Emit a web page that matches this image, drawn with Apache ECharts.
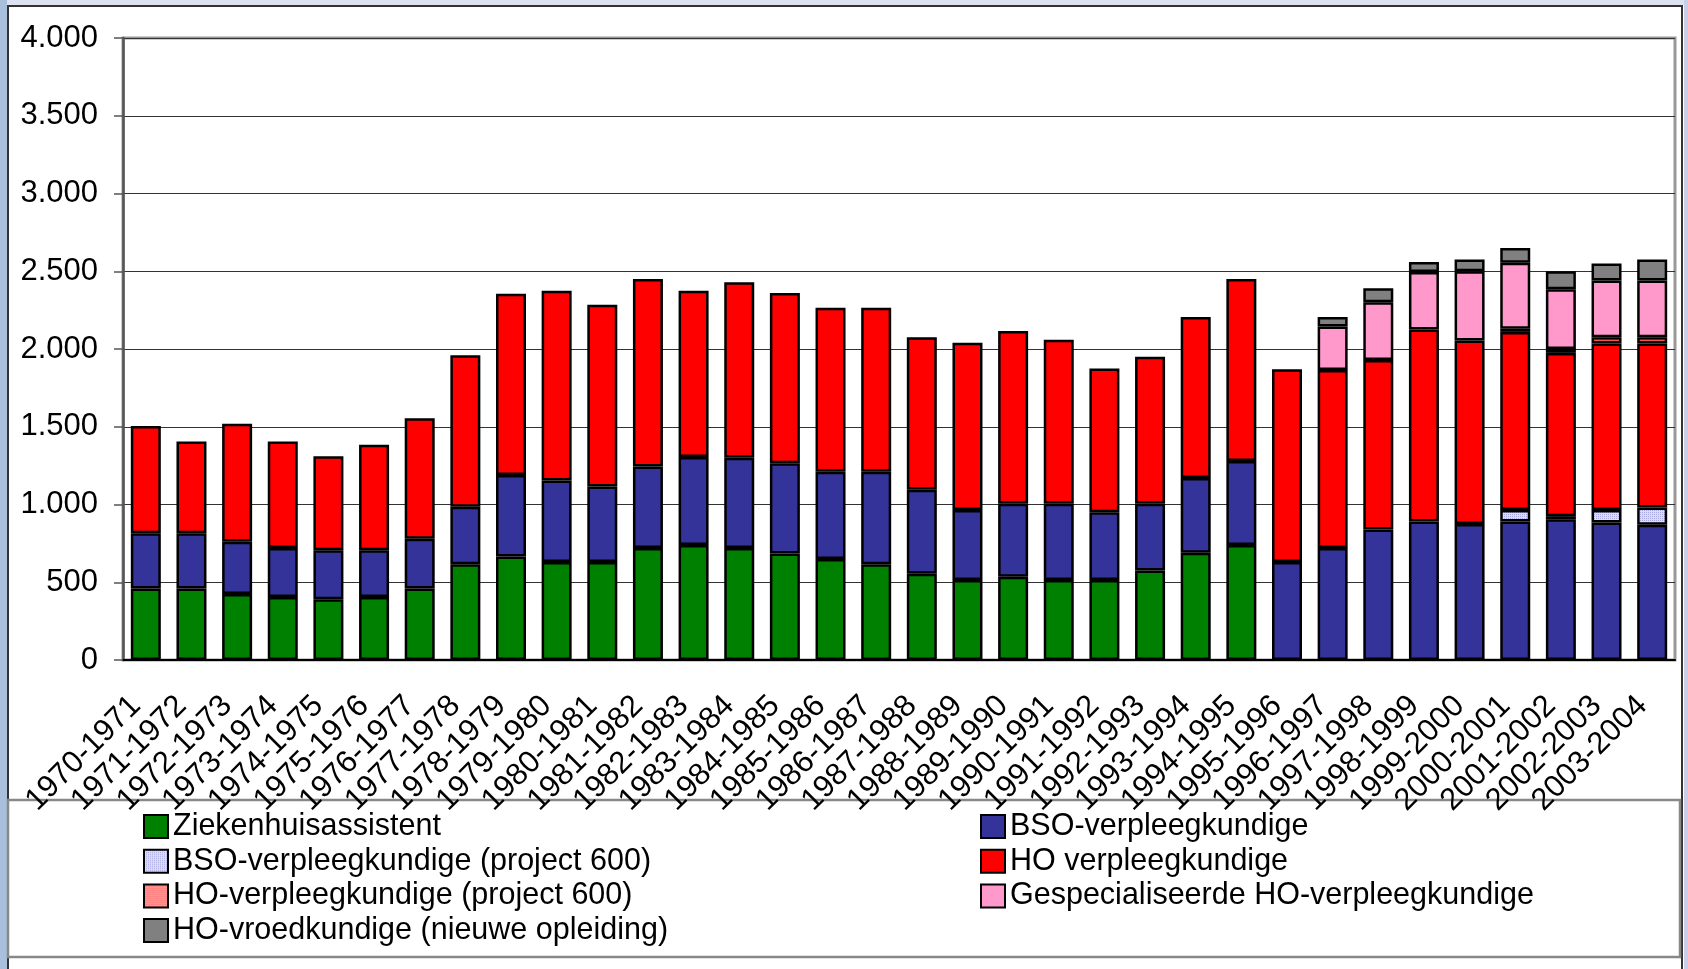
<!DOCTYPE html>
<html>
<head>
<meta charset="utf-8">
<script src="https://cdn.jsdelivr.net/npm/echarts@6/dist/echarts.min.js"></script>
<style>
  html, body { margin: 0; padding: 0; background: #fff; }
  #frame-left { position: absolute; left: 0; top: 0; width: 7px; height: 969px; background: #a8c0dc; }
  #frame-top { position: absolute; left: 7px; top: 0; width: 1681px; height: 5px; background: #dde2f0; }
  #frame-right { position: absolute; left: 1684px; top: 0; width: 4px; height: 969px; background: #c8d0e8; }
  #box { position: absolute; left: 7px; top: 5px; width: 1676px; height: 980px; border-left: 2px solid #333; border-top: 2px solid #333; border-right: 2px solid #333; box-sizing: border-box; }
  #chart { position: absolute; left: 0; top: 0; width: 1688px; height: 969px; }
</style>
</head>
<body>
<div id="frame-left"></div>
<div id="frame-top"></div>
<div id="frame-right"></div>
<div id="box"></div>
<div id="chart"></div>
<script>
const years = ['1970-1971', '1971-1972', '1972-1973', '1973-1974', '1974-1975', '1975-1976', '1976-1977',
  '1977-1978', '1978-1979', '1979-1980', '1980-1981', '1981-1982', '1982-1983', '1983-1984', '1984-1985',
  '1985-1986', '1986-1987', '1987-1988', '1988-1989', '1989-1990', '1990-1991', '1991-1992', '1992-1993',
  '1993-1994', '1994-1995', '1995-1996', '1996-1997', '1997-1998', '1998-1999', '1999-2000', '2000-2001',
  '2001-2002', '2002-2003', '2003-2004']

const ziekenhuisassistent = [460, 460, 425, 405, 390, 405, 460, 615, 665, 630, 630, 720, 740, 720, 685,
  650, 615, 555, 515, 535, 515, 515, 575, 690, 740, null, null, null, null, null, null, null, null, null]
const bsoVerpleeg = [355, 355, 335, 315, 315, 300, 320, 370, 525, 525, 485, 525, 565, 580, 580,
  560, 595, 540, 450, 470, 490, 435, 430, 480, 540, 630, 720, 840, 890, 875, 890, 905, 885, 870]
const bsoProject600 = [null, null, null, null, null, null, null, null, null, null, null, null, null, null, null,
  null, null, null, null, null, null, null, null, null, null, null, null, null, null, null, 75, 20, 80, 110]
const hoVerpleeg = [690, 590, 760, 685, 605, 680, 775, 975, 1165, 1220, 1170, 1205, 1070, 1130, 1095,
  1055, 1055, 980, 1075, 1110, 1055, 925, 945, 1035, 1170, 1240, 1145, 1090, 1235, 1180, 1145, 1050, 1070, 1055]
const hoProject600 = [null, null, null, null, null, null, null, null, null, null, null, null, null, null, null,
  null, null, null, null, null, null, null, null, null, null, null, null, null, null, null, 20, 25, 40, 40]
const gespecialiseerd = [null, null, null, null, null, null, null, null, null, null, null, null, null, null, null,
  null, null, null, null, null, null, null, null, null, null, null, 280, 370, 370, 445, 425, 385, 365, 365]
const vroedkundige = [null, null, null, null, null, null, null, null, null, null, null, null, null, null, null,
  null, null, null, null, null, null, null, null, null, null, null, 60, 90, 65, 75, 95, 115, 110, 135]

const yTicks = [0, 500, 1000, 1500, 2000, 2500, 3000, 3500, 4000]

function makePattern(w, h, draw) {
  const c = document.createElement('canvas')
  c.width = w
  c.height = h
  draw(c.getContext('2d'))
  return { image: c, repeat: 'repeat' }
}

const dotted = makePattern(2, 2, ctx => {
  ctx.fillStyle = '#dcdcf8'
  ctx.fillRect(0, 0, 2, 2)
  ctx.fillStyle = '#a8a8e0'
  ctx.fillRect(0, 0, 1, 1)
})
const striped = makePattern(2, 2, ctx => {
  ctx.fillStyle = '#ffc8c8'
  ctx.fillRect(0, 0, 2, 2)
  ctx.fillStyle = '#ff5050'
  ctx.fillRect(0, 0, 2, 1)
})

const font = 'Liberation Sans, Arial, sans-serif'

function bar(name, data, color) {
  return {
    name,
    type: 'bar',
    stack: 'total',
    barWidth: 30,
    data,
    itemStyle: { color, borderColor: '#000', borderWidth: 2.5 },
  }
}

// legend: two columns, one legend per entry so rows sit exactly
const legendCols = [
  ['Ziekenhuisassistent', 'BSO-verpleegkundige (project 600)', 'HO-verpleegkundige (project 600)', 'HO-vroedkundige (nieuwe opleiding)'],
  ['BSO-verpleegkundige', 'HO verpleegkundige', 'Gespecialiseerde HO-verpleegkundige'],
]
const legends = []
legendCols.forEach((names, c) => {
  names.forEach((name, r) => {
    legends.push({
      data: [name],
      left: c === 0 ? 143 : 980,
      top: 811 + r * 34.7,
      padding: 0,
      itemWidth: 24, itemHeight: 23, icon: 'rect',
      itemStyle: { borderColor: '#000', borderWidth: 2 },
      textStyle: { fontFamily: font, fontSize: 30.5, color: '#000' },
    })
  })
})

const chart = echarts.init(document.getElementById('chart'))
chart.setOption({
  animation: false,
  grid: { left: 123, right: 13, top: 38, bottom: 309, show: true, borderColor: '#999', borderWidth: 3 },
  legend: legends,
  graphic: [{
    type: 'rect', z: -1,
    shape: { x: 8, y: 800, width: 1672, height: 157 },
    style: { fill: 'transparent', stroke: '#888', lineWidth: 2.5 },
  }],
  xAxis: {
    type: 'category',
    data: years,
    axisLine: { lineStyle: { color: '#000', width: 2 } },
    axisTick: { length: 11, lineStyle: { color: '#000', width: 1.5 } },
    axisLabel: {
      interval: 0, rotate: 45, margin: 31, padding: [0, 14, 0, 0],
      fontFamily: font, fontSize: 31, color: '#000',
    },
  },
  yAxis: {
    type: 'value',
    min: yTicks[0],
    max: yTicks[yTicks.length - 1],
    interval: yTicks[1] - yTicks[0],
    axisLine: { show: true, lineStyle: { color: '#555', width: 2.5 } },
    axisTick: { show: true, length: 9, lineStyle: { color: '#555', width: 1.5 } },
    axisLabel: {
      margin: 25, fontFamily: font, fontSize: 31, color: '#000',
      formatter: v => String(v).replace(/\B(?=(\d{3})+(?!\d))/g, '.'),
    },
    splitLine: { lineStyle: { color: '#333', width: 1 } },
  },
  series: [
    bar('Ziekenhuisassistent', ziekenhuisassistent, '#008000'),
    bar('BSO-verpleegkundige', bsoVerpleeg, '#333399'),
    bar('BSO-verpleegkundige (project 600)', bsoProject600, dotted),
    bar('HO verpleegkundige', hoVerpleeg, '#ff0000'),
    bar('HO-verpleegkundige (project 600)', hoProject600, striped),
    bar('Gespecialiseerde HO-verpleegkundige', gespecialiseerd, '#ff99cc'),
    bar('HO-vroedkundige (nieuwe opleiding)', vroedkundige, '#808080'),
  ],
})
</script>
</body>
</html>
